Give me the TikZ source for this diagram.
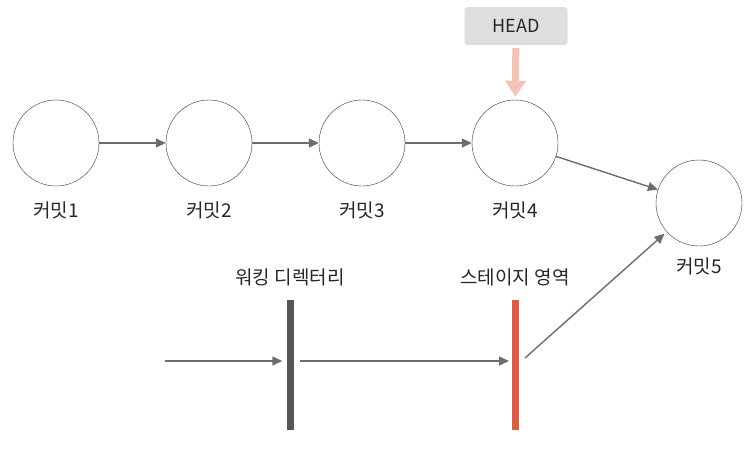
\documentclass[tikz,border=0pt]{standalone}
\usepackage{fontspec}
\setmainfont{Noto Sans CJK KR}
\usepackage{tikz}
\usetikzlibrary{arrows.meta,positioning}

\definecolor{linegray}{HTML}{6D6D6D}
\definecolor{headfill}{HTML}{DEDEDE}
\definecolor{headarrow}{HTML}{F2C4B8}
\definecolor{workbar}{HTML}{595555}
\definecolor{stagebar}{HTML}{D0604A}

\begin{document}
\begin{tikzpicture}
[x=1pt,y=-1pt,
>={Triangle[length=10pt,width=9pt]},
commit/.style={circle,draw=black!80,thin,fill=white,inner sep=0pt,minimum size=86pt},
lbl/.style={font=\fontsize{19}{21}\selectfont,text=black!85,inner sep=1pt},
bar/.style={rectangle,inner sep=0pt,minimum width=7pt,minimum height=130pt},
flow/.style={->,color=linegray,line width=1.4pt}]
\useasboundingbox (0,0) rectangle (756,448);

% commits
\node[commit] at (56,143)  (c1) {};
\node[commit] at (209,143) (c2) {};
\node[commit] at (362,143) (c3) {};
\node[commit] at (515,143) (c4) {};
\node[commit] at (699,203) (c5) {};

\node[lbl,below=14pt of c1] (l1) {커밋1};
\node[lbl,below=14pt of c2] (l2) {커밋2};
\node[lbl,below=14pt of c3] (l3) {커밋3};
\node[lbl,below=14pt of c4] (l4) {커밋4};
\node[lbl,below=10pt of c5] (l5) {커밋5};

% HEAD
\node[rectangle,rounded corners=3pt,fill=headfill,minimum width=103pt,minimum height=38pt,
      font=\fontsize{18}{20}\selectfont,text=black!85] at (516,26) (head) {HEAD};

% working directory / stage
\node[bar,fill=workbar]  at (290,365) (work)  {};
\node[bar,fill=stagebar] at (515,365) (stage) {};
\node[lbl,above=13pt of work]  (lw) {워킹 디렉터리};
\node[lbl,above=13pt of stage] (ls) {스테이지 영역};

\coordinate (in)  at (165,361);
\coordinate (wout) at (300,361);
\coordinate (sin) at (509,361);
\coordinate (sout) at (525,358);

\path [flow] (c1) edge (c2);
\path [flow] (c2) edge (c3);
\path [flow] (c3) edge (c4);
\path [flow] (c4) edge (c5);
\draw [flow,shorten >=4pt] (in) -- (work.west |- in);
\draw [flow] (wout) -- (sin);
\draw [flow,shorten >=3pt] (sout) -- (c5);
\path [-{Triangle[length=16pt,width=20pt]},draw=headarrow,fill=headarrow,line width=7pt,
       shorten <=3pt,shorten >=3pt] (head) edge (c4);
\end{tikzpicture}
\end{document}
